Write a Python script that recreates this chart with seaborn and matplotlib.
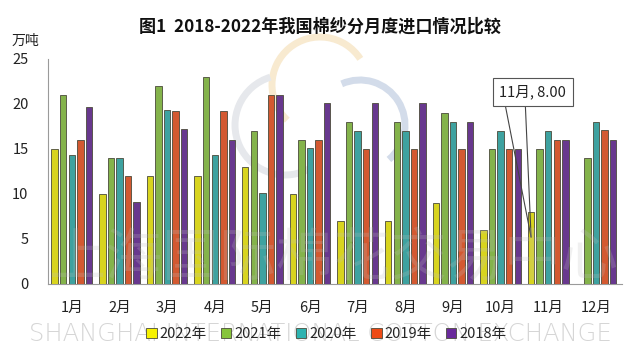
import pandas as pd
import numpy as np
import matplotlib
matplotlib.use("Agg")
import matplotlib.pyplot as plt
import seaborn as sns
from matplotlib.patches import Rectangle, Arc

# data (万吨)
months = ["1月", "2月", "3月", "4月", "5月", "6月",
          "7月", "8月", "9月", "10月", "11月", "12月"]
years = ["2022年", "2021年", "2020年", "2019年", "2018年"]
v2022 = [15, 10, 12, 12, 13, 10, 7, 7, 9, 6, 8, np.nan]
v2021 = [21, 14, 22, 23, 17, 16, 18, 18, 19, 15, 15, 14]
v2020 = [14.3, 14, 19.3, 14.3, 10.1, 15.1, 17, 17, 18, 17, 17, 18]
v2019 = [16, 12, 19.2, 19.2, 21, 16, 15, 15, 15, 15, 16, 17.1]
v2018 = [19.6, 9.1, 17.2, 16, 21, 20.1, 20.1, 20.1, 18, 15, 16, 16]
colors = ["#F7F200", "#86C43A", "#2DB3B0", "#EE4B16", "#6A2A9C"]

df = pd.DataFrame({"month": months * 5,
                   "year": np.repeat(years, len(months)),
                   "value": v2022 + v2021 + v2020 + v2019 + v2018})

sns.set_theme(style="white")
plt.rcParams["font.family"] = ["Noto Sans CJK SC", "DejaVu Sans"]

fig = plt.figure(figsize=(6.4, 3.59), dpi=100)

# faint logo behind the chart (pixel coords, y up)
bg = fig.add_axes([0, 0, 1, 1], zorder=0)
bg.set_xlim(0, 640)
bg.set_ylim(0, 359)
bg.axis("off")
bg.add_patch(Arc((320, 359 - 85), 96, 96, theta1=33, theta2=227,
                 color="#f8ead0", lw=5))
bg.add_patch(Arc((285, 359 - 125), 100, 100, theta1=107, theta2=303,
                 color="#e6e8ec", lw=5))
bg.add_patch(Arc((360, 359 - 125), 90, 90, theta1=-50, theta2=114,
                 color="#d3dcea", lw=5))

ax = fig.add_axes([0.075, 0.209, 0.897, 0.627], zorder=1)
ax.patch.set_alpha(0)

sns.barplot(data=df, x="month", y="value", hue="year", palette=colors,
            width=0.9, gap=0.25, edgecolor="#4a4a3a", linewidth=0.6,
            legend=False, ax=ax, zorder=3)

ax.set_ylim(0, 25)
ax.set_xlim(-0.5, 11.55)
ax.set_yticks(range(0, 26, 5))
ax.set_xlabel("")
ax.set_ylabel("")
ax.tick_params(axis="both", length=0, labelsize=10.5, colors="#222222")
ax.tick_params(axis="x", pad=12)
ax.tick_params(axis="y", pad=14)
for s in ["top", "right"]:
    ax.spines[s].set_visible(False)
ax.spines["left"].set_color("#9a9a9a")
ax.spines["bottom"].set_color("#9a9a9a")
ax.spines["left"].set_linewidth(0.8)
ax.spines["bottom"].set_linewidth(0.8)

fig.text(0.5, 0.925, "图1  2018-2022年我国棉纱分月度进口情况比较",
         ha="center", va="center", fontsize=12.3, fontweight="bold", color="#111111")
fig.text(0.018, 0.885, "万吨", ha="left", va="center", fontsize=10, color="#222222")

# callout on 11月 2022: box plus two pointer lines
bar = ax.containers[0][10]
bx = bar.get_x() + bar.get_width() / 2
tip = (bx, 5.2)
for x0 in (9.10, 9.52):
    ax.annotate("", xy=tip, xytext=(x0, 19.8), zorder=5,
                arrowprops=dict(arrowstyle="-", color="#444444", lw=0.8,
                                shrinkA=0, shrinkB=0))
ax.text(9.67, 21.3, f"11月, {v2022[10]:.2f}", ha="center", va="center",
        fontsize=10.5, color="#222222", zorder=6,
        bbox=dict(boxstyle="square,pad=0.45", fc="white", ec="#555555", lw=0.8))

# watermark
fig.text(0.52, 0.28, "上海国际棉花交易中心", ha="center", va="center",
         fontsize=41, fontweight="light", color="#bfbfbf", alpha=0.22, zorder=10)
fig.text(0.5, 0.07, "SHANGHAI INTERNATIONAL COTTON EXCHANGE", ha="center",
         va="center", fontsize=17.5, fontweight="light", color="#d6d6d6",
         family=["DejaVu Sans"], zorder=0)

handles = [Rectangle((0, 0), 1, 1, fc=c, ec="#4a4a3a", lw=0.6) for c in colors]
fig.legend(handles, years, loc="center", bbox_to_anchor=(0.51, 0.07), ncol=5,
           frameon=False, fontsize=10.5, handlelength=0.7, handleheight=0.7,
           handletextpad=0.2, columnspacing=1.0)

fig.savefig("out.png", dpi=100)
